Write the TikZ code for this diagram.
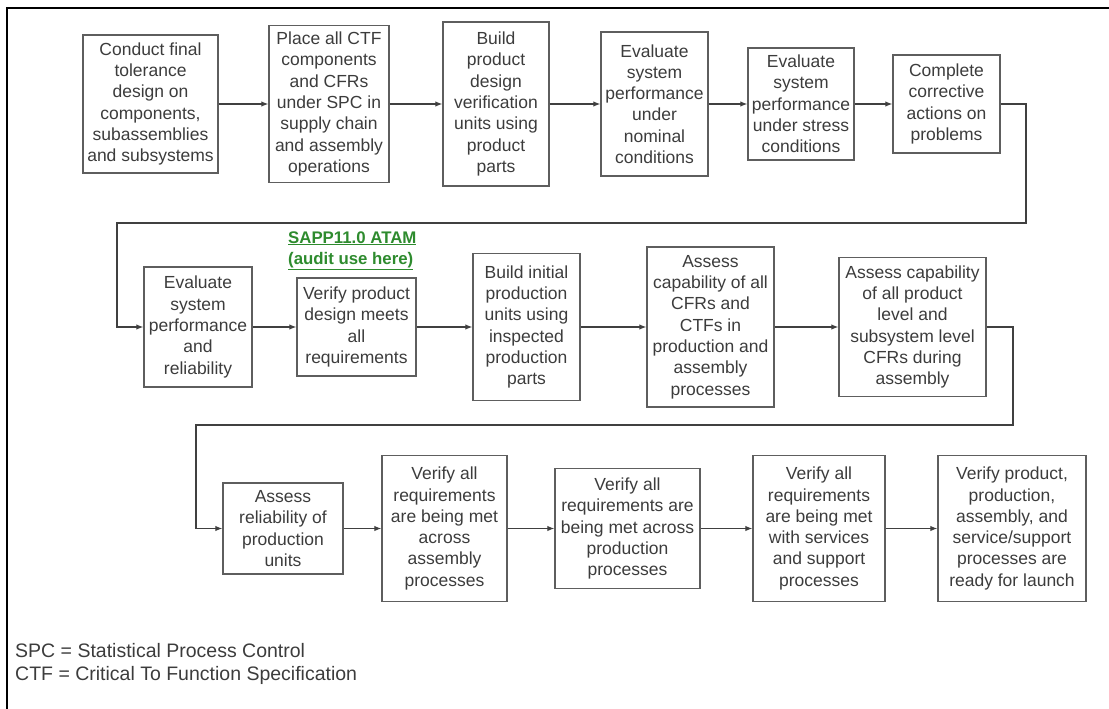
\documentclass[tikz,border=0pt]{standalone}
\usepackage{fontspec}
\setmainfont{Liberation Sans}
\usetikzlibrary{arrows.meta}
\definecolor{boxgray}{HTML}{5E5E5E}
\definecolor{textgray}{HTML}{3C3C3C}
\definecolor{linegray}{HTML}{404040}
\definecolor{anngreen}{HTML}{2E8B2E}
\begin{document}
\begin{tikzpicture}[x=1pt,y=-1pt,
  box/.style={draw=boxgray, line width=1.4pt, align=center, inner sep=0pt,
    text=textgray, font=\fontsize{17.5}{21.3}\selectfont},
  arr/.style={draw=linegray, line width=1.1pt, -{Latex[length=7pt,width=5.5pt]}},
  frameline/.style={draw=black, line width=1.6pt}]
\useasboundingbox (0,0) rectangle (1109,709);
\draw[frameline] (7,709) -- (7,8) -- (1109,8);

% Row 1
\node[box, minimum width=135pt, minimum height=138pt] (b1) at (150.5,104) {Conduct final\\tolerance\\design on\\components,\\subassemblies\\and subsystems};
\node[box, minimum width=120pt, minimum height=157pt] (b2) at (329,104) {Place all CTF\\components\\and CFRs\\under SPC in\\supply chain\\and assembly\\operations};
\node[box, minimum width=106pt, minimum height=164pt] (b3) at (496,104) {Build\\product\\design\\verification\\units using\\product\\parts};
\node[box, minimum width=107pt, minimum height=144pt] (b4) at (654.5,104) {Evaluate\\system\\performance\\under\\nominal\\conditions};
\node[box, minimum width=106pt, minimum height=112pt] (b5) at (801,104) {Evaluate\\system\\performance\\under stress\\conditions};
\node[box, minimum width=107pt, minimum height=98pt] (b6) at (946.5,104) {Complete\\corrective\\actions on\\problems};

% Row 2
\node[box, minimum width=108pt, minimum height=120pt] (b7) at (198,327) {Evaluate\\system\\performance\\and\\reliability};
\node[box, minimum width=119pt, minimum height=98pt] (b8) at (356.5,327) {Verify product\\design meets\\all\\requirements};
\node[box, minimum width=107pt, minimum height=147pt] (b9) at (526.5,327) {Build initial\\production\\units using\\inspected\\production\\parts};
\node[box, minimum width=127pt, minimum height=160pt] (b10) at (710.5,327) {Assess\\capability of all\\CFRs and\\CTFs in\\production and\\assembly\\processes};
\node[box, minimum width=147pt, minimum height=139pt] (b11) at (912.5,327) {Assess capability\\of all product\\level and\\subsystem level\\CFRs during\\assembly};

% Row 3
\node[box, minimum width=120pt, minimum height=91pt] (b12) at (283,528.5) {Assess\\reliability of\\production\\units};
\node[box, minimum width=125pt, minimum height=146pt] (b13) at (444.5,528.5) {Verify all\\requirements\\are being met\\across\\assembly\\processes};
\node[box, minimum width=145pt, minimum height=120pt] (b14) at (627.5,528.5) {Verify all\\requirements are\\being met across\\production\\processes};
\node[box, minimum width=132pt, minimum height=146pt] (b15) at (819,528.5) {Verify all\\requirements\\are being met\\with services\\and support\\processes};
\node[box, minimum width=148pt, minimum height=146pt] (b16) at (1012,528.5) {Verify product,\\production,\\assembly, and\\service/support\\processes are\\ready for launch};

% annotation
\node[anchor=west, align=left, inner sep=0pt, text=anngreen,
  font=\fontsize{16.8}{21}\selectfont\bfseries] (ann) at (288,250.5)
  {\underline{SAPP11.0 ATAM}\\\underline{(audit use here)}};

% legend
\node[anchor=west, align=left, inner sep=0pt, text=textgray,
  font=\fontsize{19.5}{22.5}\selectfont] (leg) at (15,664)
  {SPC = Statistical Process Control\\CTF = Critical To Function Specification};

% connectors row 1
\draw[arr] (b1) -- (b2);
\draw[arr] (b2) -- (b3);
\draw[arr] (b3) -- (b4);
\draw[arr] (b4) -- (b5);
\draw[arr] (b5) -- (b6);
\coordinate (r1) at (1026,223);
\coordinate (l1) at (117,223);
\draw[arr] (b6.east) -| (r1) -- (l1) |- (b7.west);

% row 2
\draw[arr] (b7) -- (b8);
\draw[arr] (b8) -- (b9);
\draw[arr] (b9) -- (b10);
\draw[arr] (b10) -- (b11);
\coordinate (r2) at (1013,425);
\coordinate (l2) at (196,425);
\draw[arr] (b11.east) -| (r2) -- (l2) |- (b12.west);

% row 3
\draw[arr] (b12) -- (b13);
\draw[arr] (b13) -- (b14);
\draw[arr] (b14) -- (b15);
\draw[arr] (b15) -- (b16);
\end{tikzpicture}
\end{document}
